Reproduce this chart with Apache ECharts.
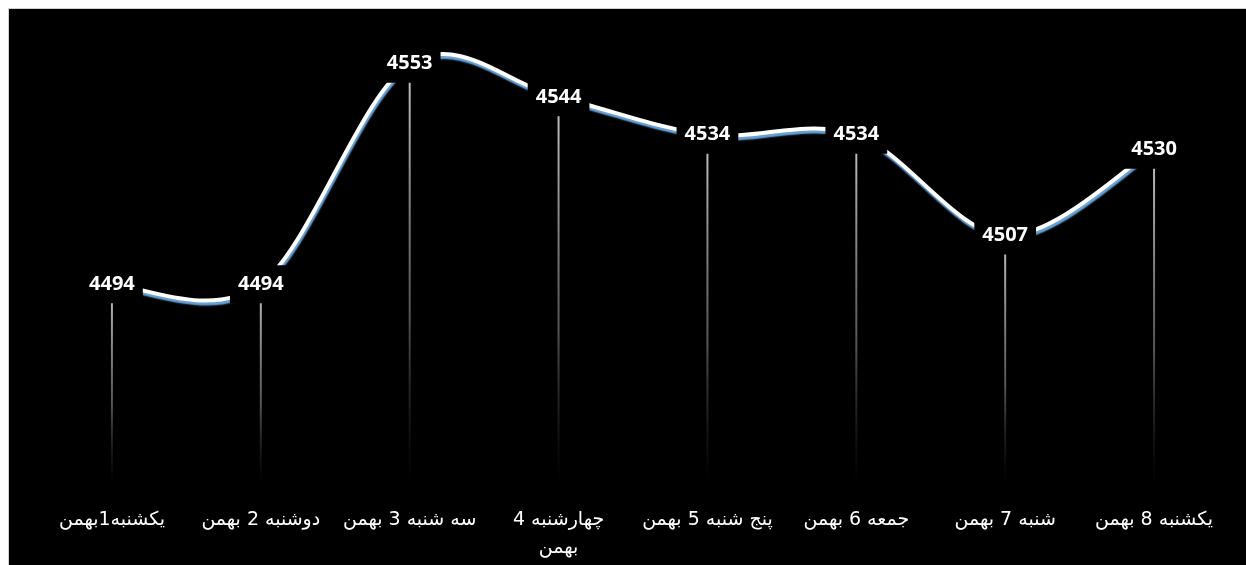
<!DOCTYPE html>
<html>
<head>
<meta charset="utf-8">
<script src="https://cdn.jsdelivr.net/npm/echarts@6/dist/echarts.min.js"></script>
<style>
html,body{margin:0;padding:0;background:#fff;width:1246px;height:565px;overflow:hidden;}
#c{position:absolute;left:8px;top:8px;width:1238px;height:557px;background:#000;border-top:1px solid #d0d0d0;border-left:1px solid #d0d0d0;box-sizing:border-box;}
</style>
</head>
<body>
<div id="c"></div>
<script>
const categories = ['یکشنبه1بهمن','دوشنبه 2 بهمن','سه شنبه 3 بهمن','چهارشنبه 4\nبهمن','پنج شنبه 5 بهمن','جمعه 6 بهمن','شنبه 7 بهمن','یکشنبه 8 بهمن'];
const values = [4494, 4494, 4553, 4544, 4534, 4534, 4507, 4530];

function smoothPath(api) {
  const pts = values.map((v, i) => api.coord([i, v]));
  const n = pts.length;
  let d = 'M' + pts[0][0] + ' ' + pts[0][1];
  for (let i = 0; i < n - 1; i++) {
    const p0 = pts[Math.max(i - 1, 0)];
    const p1 = pts[i];
    const p2 = pts[i + 1];
    const p3 = pts[Math.min(i + 2, n - 1)];
    const c1x = p1[0] + (p2[0] - p0[0]) / 6;
    const c1y = p1[1] + (p2[1] - p0[1]) / 6;
    const c2x = p2[0] - (p3[0] - p1[0]) / 6;
    const c2y = p2[1] - (p3[1] - p1[1]) / 6;
    d += ' C' + c1x + ' ' + c1y + ' ' + c2x + ' ' + c2y + ' ' + p2[0] + ' ' + p2[1];
  }
  return d;
}

const chart = echarts.init(document.getElementById('c'), null, {renderer:'canvas'});
chart.setOption({
  backgroundColor: '#000',
  animation: false,
  grid: {left: 28.5, right: 17.5, top: 28.5, bottom: 79},
  xAxis: {
    type: 'category',
    data: categories,
    boundaryGap: true,
    axisLine: {show: false},
    axisTick: {show: false},
    splitLine: {show: false},
    axisLabel: {color: '#fff', fontSize: 19, fontFamily: 'DejaVu Sans', margin: 20, lineHeight: 28, interval: 0}
  },
  yAxis: {
    type: 'value',
    min: 4440,
    max: 4560,
    show: false
  },
  series: [
    {
      type: 'bar',
      data: values,
      barWidth: 2,
      z: 1,
      itemStyle: {
        color: {type: 'linear', x: 0, y: 0, x2: 0, y2: 1, colorStops: [
          {offset: 0, color: 'rgba(210,210,210,0.95)'},
          {offset: 0.6, color: 'rgba(140,140,140,0.6)'},
          {offset: 1, color: 'rgba(60,60,60,0)'}
        ]}
      }
    },
    {
      type: 'custom',
      z: 2,
      data: values.map((v, i) => [i, v]),
      renderItem: function (params, api) {
        if (params.dataIndex !== 0) return null;
        return {
          type: 'path',
          shape: {pathData: smoothPath(api)},
          style: {
            fill: null,
            stroke: '#ffffff',
            lineWidth: 4,
            shadowColor: '#6aa5dc',
            shadowBlur: 1.5,
            shadowOffsetX: 1,
            shadowOffsetY: 3
          }
        };
      }
    },
    {
      type: 'line',
      data: values,
      z: 3,
      symbol: 'circle',
      symbolSize: 1,
      itemStyle: {color: 'rgba(0,0,0,0)'},
      lineStyle: {opacity: 0, width: 0},
      label: {
        show: true,
        position: 'inside',
        color: '#fff',
        fontFamily: 'Open Sans',
        fontWeight: 'bold',
        fontSize: 20,
        backgroundColor: '#000',
        padding: [9, 8, 9, 8]
      }
    }
  ]
});
</script>
</body>
</html>
